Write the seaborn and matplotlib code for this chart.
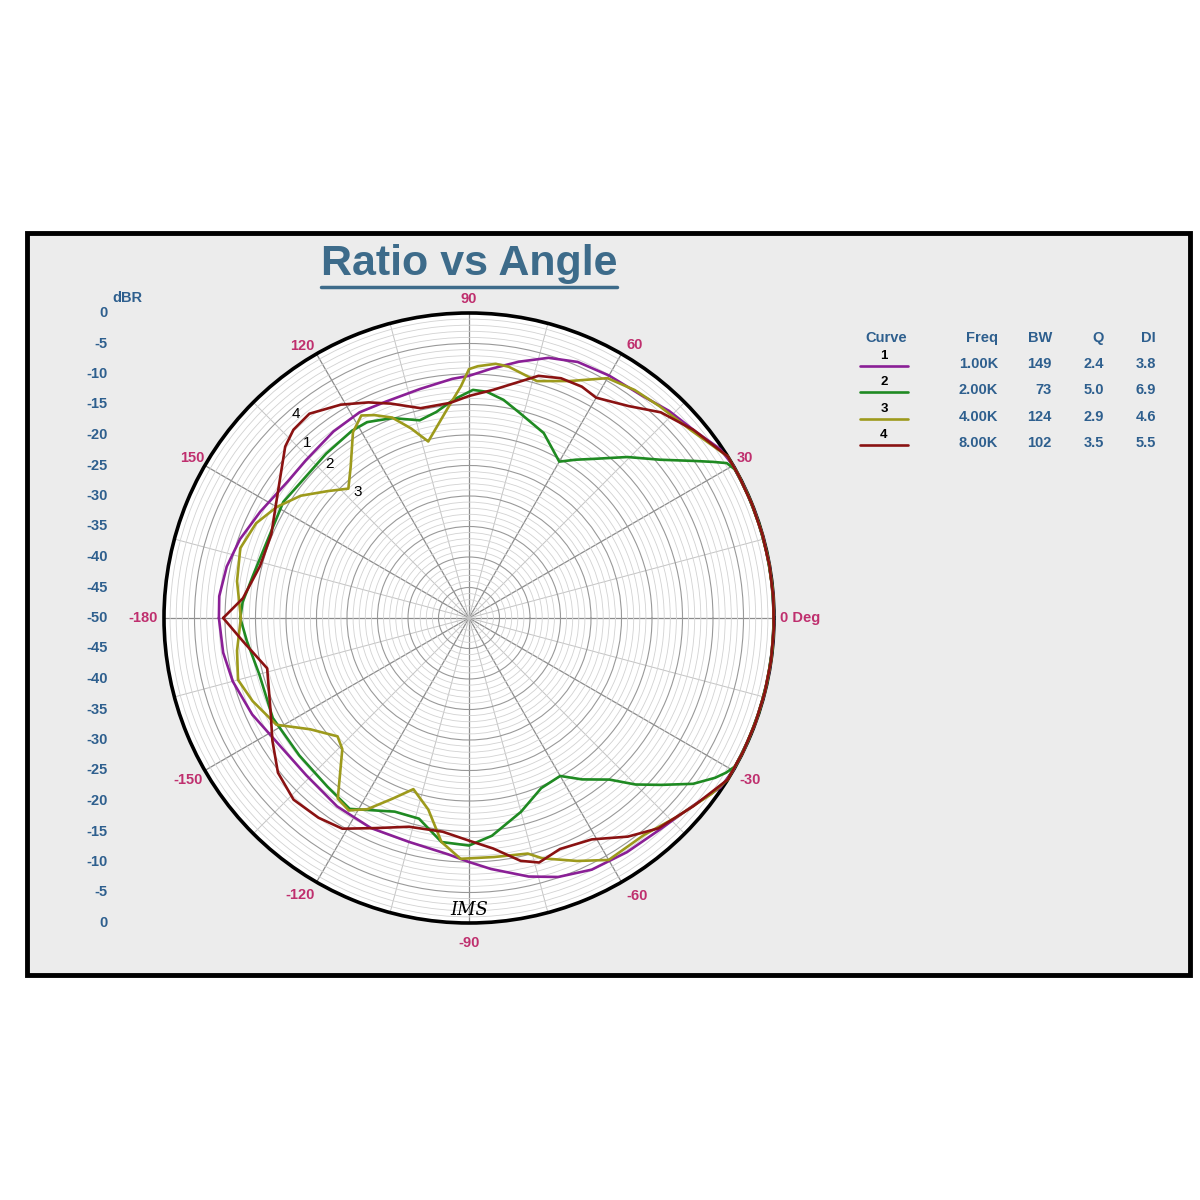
"""
Polar directivity plot: Ratio vs Angle for four frequency bands.
"""

import numpy as np
import pandas as pd
import matplotlib
matplotlib.use("Agg")
import matplotlib.pyplot as plt
from matplotlib.patches import Rectangle
from matplotlib.lines import Line2D
import seaborn as sns


# =============================================================================
# Data (angle in degrees, level in dBR)
# =============================================================================

curve1_angle = [-180, -172, -165, -156, -147, -136, -125, -115, -105, -95, -90,
                -85, -77, -71, -64, -56, -48, -40, -34, -30, -25, -20, -15,
                -10, -5, 0, 5, 10, 15, 20, 25, 30,
                34, 40, 46, 52, 60, 67, 73, 79, 85, 90, 94, 102, 111, 118, 126,
                136, 143, 153, 161, 168, 175, 180]
curve1_db = [-9.0, -9.3, -9.9, -11.1, -12.5, -12.9, -12.3, -12.0, -12.0, -11.1,
             -10.0, -8.7, -6.5, -5.1, -4.1, -3.7, -3.3, -2.1, -0.3, 0.0, 0.0,
             0.0, 0.0, 0.0, 0.0, 0.0, 0.0, 0.0, 0.0, 0.0, 0.0, 0.0,
             -0.4, -2.0, -2.8, -3.8, -4.1, -4.4, -5.4, -7.2,
             -9.0, -10.3, -10.7, -11.6, -12.0, -11.8, -12.2, -12.8, -12.8,
             -11.6, -10.3, -9.4, -8.9, -9.0]

curve2_angle = [-180, -174, -165, -153, -141, -130, -122, -111, -104, -97, -90,
                -84, -75, -67, -60, -55, -49, -45, -41, -36.5, -33, -31, -29,
                -24, -18, -12, -6, 0, 6, 12, 18, 24,
                29, 31, 32.6, 35, 39.6, 45.5, 52, 56, 60, 64.5, 68, 76, 81,
                85.5, 89, 94, 99, 104, 111, 117.5, 122, 131, 140, 148, 157,
                169, 176, 180]
curve2_db = [-12.5, -13.4, -14.4, -13.9, -14.2, -13.9, -13.1, -16.0, -16.1,
             -13.0, -12.7, -14.1, -17.1, -19.7, -20.1, -17.7, -14.9, -11.4,
             -8.3, -4.3, -1.9, -0.8, 0.0, 0.0, 0.0, 0.0, 0.0, 0.0, 0.0, 0.0,
             0.0, 0.0, 0.0, -0.7, -2.5, -5.1, -9.3,
             -13.0, -16.9, -18.7, -20.4, -18.8, -17.3, -15.4, -13.8, -12.8,
             -12.6, -14.1, -15.8, -16.6, -14.9, -13.8, -13.8, -14.3, -14.6,
             -14.1, -14.6, -13.9, -12.8, -12.5]

curve3_angle = [-180, -172, -165, -159, -151, -145, -138, -134, -126, -122,
                -118, -113, -108, -102, -97, -92, -84, -76, -73, -66, -60, -51,
                -44, -36, -32, -26, -20, -14, -8, -2, 4, 10, 16, 22, 28,
                32, 40, 48, 54, 60, 67, 74, 81, 84, 88, 90,
                92, 96, 103, 107, 111, 115, 118, 122, 128, 133, 138, 144, 150,
                156, 163, 171, 180]
curve3_db = [-12.6, -11.6, -10.8, -12.0, -13.9, -18.2, -21.0, -20.1, -13.4,
             -12.8, -14.5, -17.8, -20.5, -17.9, -13.0, -10.5, -10.6, -10.2,
             -8.8, -6.4, -4.2, -4.3, -2.9, -0.9, 0.0, 0.0, 0.0, 0.0, 0.0, 0.0,
             0.0, 0.0, 0.0, 0.0, 0.0, 0.0, -2.3, -3.3,
             -3.8, -4.6, -7.8, -9.6, -8.3, -8.1, -8.7, -9.2, -12.0, -15.6,
             -20.3, -17.5, -14.8, -13.3, -12.4, -14.1, -18.5, -21.0, -18.9,
             -15.9, -13.6, -11.8, -10.8, -11.5, -12.6]

curve4_angle = [-180, -174, -166, -155, -148, -141, -134, -127, -121, -114,
                -106, -97, -90, -84, -78, -74, -68.5, -61, -54, -48, -40, -32,
                -26, -20, -14, -8, -2, 4, 10, 16, 22, 28,
                32, 40, 47, 53, 60, 64, 69, 74, 84, 90, 95, 103, 110, 115,
                121, 128, 133, 137, 143, 150, 157, 166, 175, 180]
curve4_db = [-9.7, -12.8, -15.9, -14.1, -12.0, -9.7, -8.6, -9.0, -9.7, -12.3,
             -14.4, -14.7, -13.5, -12.0, -9.3, -8.3, -9.3, -8.5, -5.7, -3.6,
             -2.0, 0.0, 0.0, 0.0, 0.0, 0.0, 0.0, 0.0, 0.0, 0.0, 0.0, 0.0,
             0.0, -2.0, -3.9, -6.5, -8.3, -7.8, -7.9, -8.7,
             -12.4, -13.6, -14.6, -14.7, -12.6, -11.0, -9.2, -7.5, -7.8, -8.8,
             -11.3, -13.4, -14.8, -14.7, -12.8, -9.7]

curve_names = ["1", "2", "3", "4"]
curve_freq = ["1.00K", "2.00K", "4.00K", "8.00K"]
curve_bw = ["149", "73", "124", "102"]
curve_q = ["2.4", "5.0", "2.9", "3.5"]
curve_di = ["3.8", "6.9", "4.6", "5.5"]

angle_ticks = [0, 30, 60, 90, 120, 150, 180, -150, -120, -90, -60, -30]
angle_labels = ["0 Deg", "30", "60", "90", "120", "150", "-180", "-150",
                "-120", "-90", "-60", "-30"]

db_labels_top = [0, -5, -10, -15, -20, -25, -30, -35, -40, -45, -50]
db_labels_bottom = [-45, -40, -35, -30, -25, -20, -15, -10, -5, 0]

DB_MIN = -50

colors = {
    "1": "#8a1f96",
    "2": "#1f8a22",
    "3": "#9d9a1c",
    "4": "#8a1212",
}

BLUE = "#2e5f8e"
MAGENTA = "#bf2f6e"


# =============================================================================
# Build table
# =============================================================================

frames = []
for name, ang, db in zip(
    curve_names,
    [curve1_angle, curve2_angle, curve3_angle, curve4_angle],
    [curve1_db, curve2_db, curve3_db, curve4_db],
):
    frames.append(pd.DataFrame({
        "curve": name,
        "theta": np.deg2rad(ang),
        "r": np.array(db) - DB_MIN,
    }))
data = pd.concat(frames, ignore_index=True)


# =============================================================================
# Figure
# =============================================================================

sns.set_theme(style="white")
plt.rcParams["font.family"] = ["Liberation Sans", "DejaVu Sans"]

fig = plt.figure(figsize=(12, 12), dpi=100)
fig.patch.set_facecolor("white")

W = H = 1200.0


def fx(px):
    return px / W


def fy(py):
    return 1 - py / H


# grey panel with black frame (behind the axes)
panel = Rectangle(
    (fx(27), fy(975)), fx(1190) - fx(27), fy(233) - fy(975),
    transform=fig.transFigure, facecolor="#ececec",
    edgecolor="black", linewidth=3.5, zorder=-10,
)
fig.add_artist(panel)

cx, cy, R = 469, 618, 305
ax = fig.add_axes(
    [fx(cx - R), fy(cy + R), 2 * R / W, 2 * R / H],
    projection="polar",
)
ax.set_zorder(1)
ax.set_facecolor("white")
ax.set_ylim(0, -DB_MIN)

# grid
ax.set_yticks(np.arange(0, 51, 5))
ax.set_yticks(np.arange(0, 51, 1), minor=True)
ax.set_xticks(np.deg2rad(np.arange(0, 360, 30)))
ax.set_xticks(np.deg2rad(np.arange(15, 360, 30)), minor=True)
ax.set_yticklabels([])
ax.set_xticklabels([])
ax.tick_params(which="both", length=0)
ax.yaxis.grid(True, which="major", color="#999999", linewidth=0.8)
ax.yaxis.grid(True, which="minor", color="#d2d2d2", linewidth=0.6)
ax.xaxis.grid(True, which="major", color="#8c8c8c", linewidth=0.9)
ax.xaxis.grid(True, which="minor", color="#c4c4c4", linewidth=0.7)
ax.spines["polar"].set_color("black")
ax.spines["polar"].set_linewidth(2.6)

sns.lineplot(
    data=data,
    x="theta",
    y="r",
    hue="curve",
    palette=colors,
    sort=False,
    estimator=None,
    linewidth=1.9,
    legend=False,
    clip_on=False,
    zorder=5,
    ax=ax,
)
ax.set_xlabel("")
ax.set_ylabel("")

# angle labels (nudged slightly like the original instrument plot)
for ang, lab in zip(angle_ticks, angle_labels):
    t = np.deg2rad(ang)
    if ang == 0:
        ax.text(t, 51.0, lab, ha="left", va="center", color=MAGENTA,
                fontsize=10.5, fontweight="bold")
    elif ang == 180:
        ax.text(t, 51.0, lab, ha="right", va="center", color=MAGENTA,
                fontsize=10.5, fontweight="bold")
    else:
        nudge = 0.0
        if abs(ang) in (60, 120):
            nudge = -1.2 if abs(ang) == 60 else 1.4
        t = np.deg2rad(np.sign(ang) * (abs(ang) + nudge))
        rr = 52.3 if ang > 0 else 53.2
        ax.text(t, rr, lab, ha="center", va="center", color=MAGENTA,
                fontsize=10.5, fontweight="bold")

# dB scale on the left
for v in db_labels_top:
    y = 0.5 + 0.5 * (v - DB_MIN) / -DB_MIN
    ax.text(-0.092, y, str(v), transform=ax.transAxes, ha="right",
            va="center", color=BLUE, fontsize=10.5, fontweight="bold")
for v in db_labels_bottom:
    y = 0.5 - 0.5 * (v - DB_MIN) / -DB_MIN
    ax.text(-0.092, y, str(v), transform=ax.transAxes, ha="right",
            va="center", color=BLUE, fontsize=10.5, fontweight="bold")
ax.text(-0.084, 1.025, "dBR", transform=ax.transAxes, ha="left",
        va="center", color=BLUE, fontsize=10.5, fontweight="bold")

# curve labels on the plot
for lab, (px, py) in zip(["4", "1", "2", "3"],
                         [(296, 414), (307, 443), (330, 464), (358, 492)]):
    fig.text(fx(px), fy(py), lab, ha="center", va="center",
             color="black", fontsize=11, zorder=10)

fig.text(fx(469), fy(910), "IMS", ha="center", va="center",
         color="black", fontsize=13, style="italic", family="DejaVu Serif",
         zorder=10)

# title with underline
title = fig.text(fx(469), fy(264), "Ratio vs Angle", ha="center",
                 va="center", color="#3d6b8a", fontsize=31,
                 fontweight="bold")
fig.canvas.draw()
bb = title.get_window_extent().transformed(fig.transFigure.inverted())
fig.lines.append(Line2D([bb.x0, bb.x1], [fy(287), fy(287)],
                        transform=fig.transFigure, color="#3d6b8a",
                        linewidth=2.5))

# legend table
hdr_y = 338
fig.text(fx(886), fy(hdr_y), "Curve", ha="center", va="center",
         color=BLUE, fontsize=10.5, fontweight="bold")
col_x = [998, 1052, 1104, 1156]
for x, lab in zip(col_x, ["Freq", "BW", "Q", "DI"]):
    fig.text(fx(x), fy(hdr_y), lab, ha="right", va="center",
             color=BLUE, fontsize=10.5, fontweight="bold")

for i, name in enumerate(curve_names):
    ry = 364 + i * 26.3
    fig.lines.append(Line2D([fx(860), fx(908)], [fy(ry + 2), fy(ry + 2)],
                            transform=fig.transFigure,
                            color=colors[name], linewidth=1.9))
    fig.text(fx(884), fy(ry - 8), name, ha="center", va="center",
             color="black", fontsize=9.5, fontweight="bold")
    row = [curve_freq[i], curve_bw[i], curve_q[i], curve_di[i]]
    for x, val in zip(col_x, row):
        fig.text(fx(x), fy(ry), val, ha="right", va="center",
                 color=BLUE, fontsize=10.5, fontweight="bold")

plt.savefig("out.png", dpi=100, facecolor="white")
